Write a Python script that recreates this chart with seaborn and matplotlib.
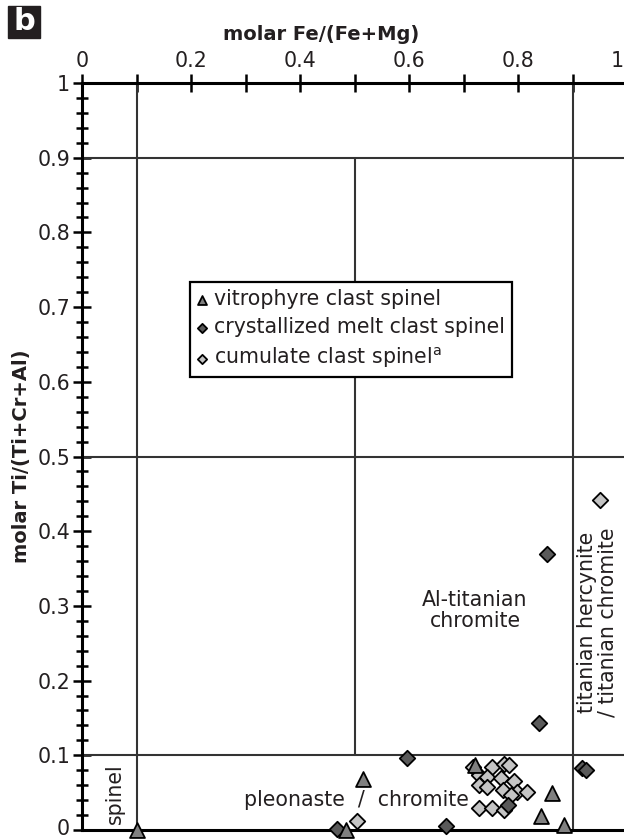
import numpy as np
import pandas as pd
import matplotlib
matplotlib.use("Agg")
import matplotlib.pyplot as plt
import seaborn as sns
from matplotlib.patches import Rectangle
from matplotlib.transforms import ScaledTranslation

# ---------------- data ----------------
vit_x = [0.100, 0.485, 0.515, 0.721, 0.842, 0.862, 0.885]
vit_y = [0.000, 0.000, 0.068, 0.087, 0.019, 0.050, 0.007]

cry_x = [0.468, 0.596, 0.668, 0.781, 0.839, 0.853, 0.918, 0.925]
cry_y = [0.002, 0.096, 0.005, 0.033, 0.143, 0.369, 0.083, 0.080]

cum_x = [0.504, 0.717, 0.753, 0.775, 0.784, 0.729, 0.744, 0.769, 0.793, 0.729,
         0.744, 0.772, 0.799, 0.817, 0.787, 0.729, 0.753, 0.775, 0.951]
cum_y = [0.012, 0.085, 0.085, 0.089, 0.087, 0.074, 0.071, 0.069, 0.065, 0.060,
         0.058, 0.054, 0.051, 0.051, 0.047, 0.029, 0.029, 0.027, 0.442]

series_labels = ["vitrophyre clast spinel",
                 "crystallized melt clast spinel",
                 "cumulate clast spinel$^{\\mathrm{a}}$"]

x_ticks = [0.0, 0.1, 0.2, 0.3, 0.4, 0.5, 0.6, 0.7, 0.8, 0.9, 1.0]
x_tick_labels = ["0", "", "0.2", "", "0.4", "", "0.6", "", "0.8", "", "1"]
y_ticks = [0.0, 0.1, 0.2, 0.3, 0.4, 0.5, 0.6, 0.7, 0.8, 0.9, 1.0]
y_tick_labels = ["0", "0.1", "0.2", "0.3", "0.4", "0.5", "0.6", "0.7", "0.8", "0.9", "1"]

h_bounds = [0.9, 0.5, 0.1]
v_bounds_full = [0.1, 0.9]
v_bound_mid = 0.5

# ---------------- style ----------------
sns.set_style("ticks")
plt.rcParams['font.family'] = ['DejaVu Sans']
plt.rcParams['mathtext.fontset'] = 'dejavusans'

TXT = '#231f20'
FS = 14.8
fig = plt.figure(figsize=(6.24, 8.4), dpi=100)
ax = fig.add_axes([82/624, 10/840, 545/624, 747/840])

# field boundaries
for yb in h_bounds:
    ax.axhline(yb, color='#333333', lw=1.5, zorder=1)
for xb in v_bounds_full:
    ax.axvline(xb, color='#333333', lw=1.5, zorder=1)
ax.axvline(v_bound_mid, ymin=0.1, ymax=0.9, color='#333333', lw=1.5, zorder=1)

# scatter (draw order: cumulate, crystallized, vitrophyre)
sns.scatterplot(x=cum_x, y=cum_y, marker='D', s=62, color='#c4c4c4',
                edgecolor='black', linewidth=1.3, label=series_labels[2],
                ax=ax, zorder=3, clip_on=False)
sns.scatterplot(x=cry_x, y=cry_y, marker='D', s=62, color='#5a5a5a',
                edgecolor='black', linewidth=1.3, label=series_labels[1],
                ax=ax, zorder=4, clip_on=False)
sns.scatterplot(x=vit_x, y=vit_y, marker='^', s=115, color='#808080',
                edgecolor='black', linewidth=1.3, label=series_labels[0],
                ax=ax, zorder=5, clip_on=False)

ax.set_xlim(0, 1)
ax.set_ylim(0, 1)

ax.xaxis.tick_top()
ax.set_xticks(x_ticks)
ax.set_xticklabels(x_tick_labels)
ax.set_yticks(y_ticks)
ax.set_yticklabels(y_tick_labels)
ax.set_yticks(np.arange(0, 1.001, 0.02), minor=True)
ax.tick_params(axis='x', which='both', bottom=False, top=True,
               labelbottom=False, labeltop=True)
ax.tick_params(axis='y', which='both', left=True, right=False,
               labelleft=True, labelright=False)
ax.tick_params(axis='both', which='major', direction='inout', length=13,
               width=1.8, labelsize=FS, color='black', labelcolor=TXT, pad=2)
ax.tick_params(axis='y', which='minor', direction='inout', length=9,
               width=1.8, color='black')

for side in ['top', 'left', 'bottom']:
    ax.spines[side].set_visible(True)
    ax.spines[side].set_color('black')
    ax.spines[side].set_linewidth(2.2)
ax.spines['right'].set_visible(False)

ax.set_xlabel('')
ax.set_ylabel('molar Ti/(Ti+Cr+Al)', fontweight='bold', fontsize=14, color=TXT)
ax.yaxis.set_label_coords(-0.093, 0.5)

# legend
handles, labels = ax.get_legend_handles_labels()
order = [labels.index(l) for l in series_labels]
leg = ax.legend([handles[i] for i in order], [labels[i] for i in order],
                loc='upper left', bbox_to_anchor=(0.198, 0.734),
                borderaxespad=0, frameon=True, fancybox=False,
                edgecolor='black', framealpha=1, markerscale=0.6,
                handlelength=0.5, handletextpad=0.3, labelspacing=0.4,
                borderpad=0.35, fontsize=FS)
leg.get_frame().set_linewidth(1.6)
for t in leg.get_texts():
    t.set_color(TXT)

# annotations
ax.text(0.721, 0.294, 'Al-titanian\nchromite', ha='center', va='center',
        fontsize=FS, color=TXT, linespacing=1.05)
ax.text(0.503, 0.040, 'pleonaste  /  chromite', ha='center', va='center',
        fontsize=FS, color=TXT)
ax.text(0.061, 0.048, 'spinel', ha='center', va='center', rotation=90,
        fontsize=FS, color=TXT)
ax.text(0.945, 0.278, 'titanian hercynite\n/ titanian chromite', ha='center',
        va='center', rotation=90, fontsize=FS, color=TXT, linespacing=1.05,
        multialignment='center')

# title and panel letter
fig.text(321/624, 1 - 34/840, 'molar Fe/(Fe+Mg)', ha='center', va='center',
         fontweight='bold', fontsize=14, color=TXT)
fig.patches.append(Rectangle((8/624, 1 - 38/840), 32/624, 32/840,
                             transform=fig.transFigure, color='#231f20'))
fig.text(24/624, 1 - 22/840, 'b', ha='center', va='center', color='white',
         fontweight='bold', fontsize=22)

# keep edge tick labels inside the picture
xt = ax.xaxis.get_major_ticks()
xt[-1].label2.set_transform(xt[-1].label2.get_transform() +
                            ScaledTranslation(-10/100, 0, fig.dpi_scale_trans))
yt = ax.yaxis.get_major_ticks()
yt[0].label1.set_transform(yt[0].label1.get_transform() +
                           ScaledTranslation(0, 3/100, fig.dpi_scale_trans))

fig.savefig('out.png', dpi=100)
